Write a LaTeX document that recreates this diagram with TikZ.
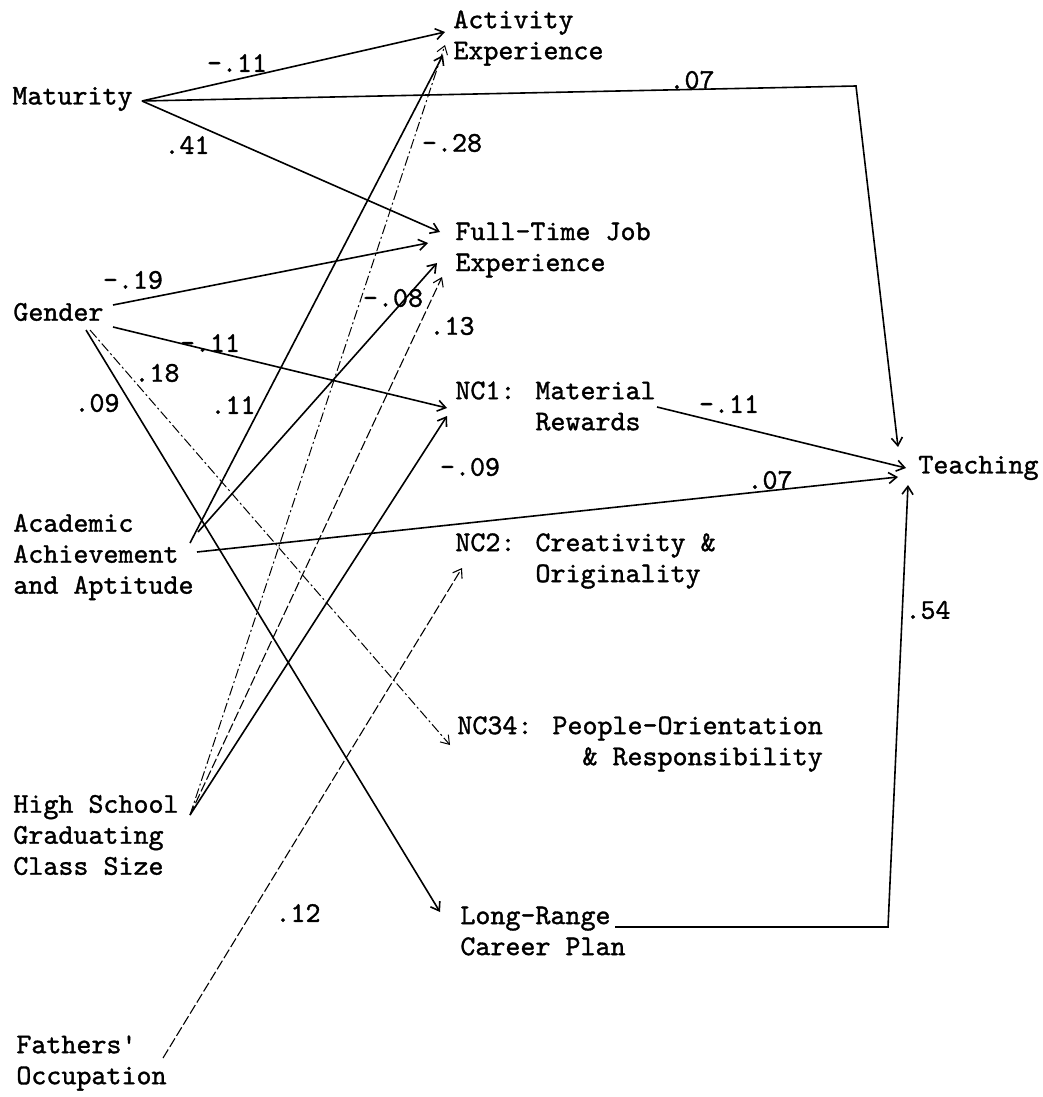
\documentclass[tikz,border=0pt]{standalone}
\usepackage{fontspec}
\newfontfamily\typefont{lmmono10-regular.otf}[RawFeature={embolden=1.2}]
\usetikzlibrary{arrows.meta}
\begin{document}
\begin{tikzpicture}[x=0.5pt,y=-0.5pt,
  var/.style={anchor=west,align=left,inner sep=0pt,font=\typefont\fontsize{14.3}{15.5}\selectfont},
  coef/.style={inner sep=0pt,font=\typefont\fontsize{14.3}{15.5}\selectfont},
  link/.style={line width=0.8pt,-{Straight Barb[length=4pt,width=5.5pt]}},
  dashlink/.style={link,line width=0.55pt,dash pattern=on 5pt off 1.5pt},
  dotlink/.style={link,line width=0.5pt,dash pattern=on 5pt off 1.5pt on 1pt off 1.5pt}]
\useasboundingbox (0,0) rectangle (1043,1097);
\node[var] (act) at (453,38) {Activity\\Experience};
\node[var] (mat) at (12,99) {Maturity};
\node[var] (ftj) at (455,250) {Full-Time Job\\Experience};
\node[var] (gen) at (13,312) {Gender};
\node[var] (nc1) at (455,406) {NC1: Material\\\hphantom{NC1: }Rewards};
\node[var] (teach) at (918,468) {Teaching};
\node[var] (acad) at (13,557) {Academic\\Achievement\\and Aptitude};
\node[var] (nc2) at (455,561) {NC2: Creativity \&\\\hphantom{NC2: }Originality};
\node[var] (nc34) at (457,744) {NC34: People-Orientation\\\hphantom{NC34: Pe}\& Responsibility};
\node[var] (hs) at (13,835) {High School\\Graduating\\Class Size};
\node[var] (lrc) at (460,931) {Long-Range\\Career Plan};
\node[var] (fo) at (16,1063) {Fathers'\\Occupation};
\coordinate (matOut) at (142,101);
\coordinate (genA) at (113,305);
\coordinate (genB) at (113,327);
\coordinate (genC) at (90,330);
\coordinate (genD) at (86,330);
\coordinate (acadA) at (190,543);
\coordinate (acadB) at (198,532);
\coordinate (acadC) at (197,552);
\coordinate (hsOut) at (190,815);
\coordinate (foOut) at (163,1058);
\coordinate (nc1Out) at (657,407);
\coordinate (lrcOut) at (615,927);
\coordinate (cornerA) at (856,86);
\coordinate (cornerB) at (888,927);
\coordinate (actIn1) at (445,32);
\coordinate (actIn2) at (445,45);
\coordinate (actIn3) at (443,55);
\coordinate (ftjIn1) at (440,232);
\coordinate (ftjIn2) at (428,243);
\coordinate (ftjIn3) at (437,263);
\coordinate (ftjIn4) at (442,277);
\coordinate (nc1In1) at (447,408);
\coordinate (nc1In2) at (447,416);
\coordinate (nc2In) at (462,568);
\coordinate (nc34In) at (450,745);
\coordinate (lrcIn) at (440,912);
\coordinate (teachIn1) at (898,447);
\coordinate (teachIn2) at (906,468);
\coordinate (teachIn3) at (898,477);
\coordinate (teachIn4) at (908,485);
\draw[link] (matOut) -- (actIn1);
\draw[link] (matOut) -- (cornerA) -- (teachIn1);
\draw[link] (matOut) -- (ftjIn1);
\draw[link] (genA) -- (ftjIn2);
\draw[link] (genB) -- (nc1In1);
\draw[dotlink] (genC) -- (nc34In);
\draw[link] (genD) -- (lrcIn);
\draw[link] (acadA) -- (actIn3);
\draw[link] (acadB) -- (ftjIn3);
\draw[link] (acadC) -- (teachIn3);
\draw[dotlink] (hsOut) -- (actIn2);
\draw[dashlink] (hsOut) -- (ftjIn4);
\draw[link] (hsOut) -- (nc1In2);
\draw[dashlink] (foOut) -- (nc2In);
\draw[link] (nc1Out) -- (teachIn2);
\draw[link] (lrcOut) -- (cornerB) -- (teachIn4);
\node[coef] (cMatAct) at (237,63) {-.11};
\node[coef] (cMatTeach) at (692,80) {.07};
\node[coef] (cMatFtj) at (187,145) {.41};
\node[coef] (cHsAct) at (452,143) {-.28};
\node[coef] (cGenFtj) at (133,280) {-.19};
\node[coef] (cAcadFtj) at (393,298) {-.08};
\node[coef] (cHsFtj) at (452,326) {.13};
\node[coef] (cGenNc1) at (210,343) {-.11};
\node[coef] (cGenNc34) at (157,373) {.18};
\node[coef] (cGenLrc) at (97,403) {.09};
\node[coef] (cAcadAct) at (233,405) {.11};
\node[coef] (cNc1Teach) at (729,404) {-.11};
\node[coef] (cHsNc1) at (470,467) {-.09};
\node[coef] (cAcadTeach) at (770,480) {.07};
\node[coef] (cLrcTeach) at (928,610) {.54};
\node[coef] (cFoNc2) at (298,913) {.12};
\end{tikzpicture}
\end{document}
